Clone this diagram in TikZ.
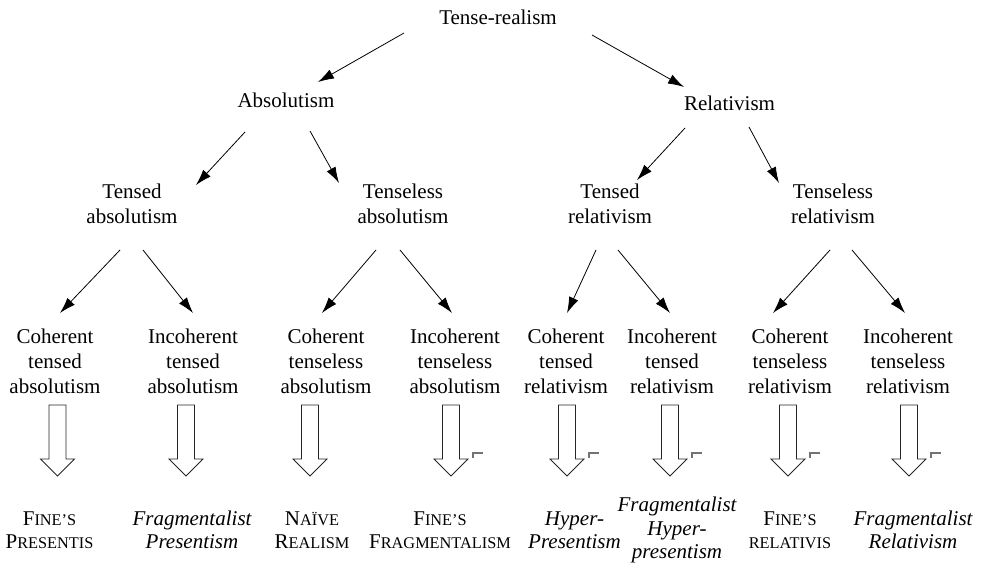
\documentclass[tikz,border=0pt]{standalone}
\usepackage{fontspec}
\setmainfont{Liberation Serif}
\usetikzlibrary{arrows.meta}
\newcommand\fsc[1]{{\fontsize{16.3}{23.5}\selectfont #1}}
\newcommand\harrowat[1]{\draw[hollow] (#1-8.5,405) -- (#1+8.5,405) -- (#1+8.5,459) -- (#1+17,459) -- (#1,476) -- (#1-17,459) -- (#1-8.5,459) -- cycle;}
\newcommand\markat[1]{\fill[markc] (#1+21,451.5) rectangle (#1+32,454.2); \fill[markc] (#1+21,451.5) rectangle (#1+23.4,457.5);}
\begin{document}
\begin{tikzpicture}[x=1pt,y=-1pt,
  lab/.style={inner sep=0pt, align=center, font=\fontsize{21}{25}\selectfont},
  bot/.style={inner sep=0pt, align=center, font=\fontsize{21}{23.5}\selectfont},
  boti/.style={bot, font=\fontsize{21}{23.5}\selectfont\itshape},
  arr/.style={-{Latex[length=16pt,width=10pt]}, line width=0.8pt},
  hollow/.style={line width=0.8pt, draw=black!85, line join=miter},
  markc/.style={black!55}]
\useasboundingbox (0,0) rectangle (985,565);
% level 1-2
\node[lab] (tr) at (498,17) {Tense-realism};
\node[lab] (abs) at (286,100) {Absolutism};
\node[lab] (rel) at (729.5,103) {Relativism};
% level 3
\node[lab] (ta) at (132,204) {Tensed\\absolutism};
\node[lab] (tla) at (403,204) {Tenseless\\absolutism};
\node[lab] (tr3) at (610,204) {Tensed\\relativism};
\node[lab] (tlr) at (833,204) {Tenseless\\relativism};
% level 4
\node[lab] (cta) at (55,361) {Coherent\\tensed\\absolutism};
\node[lab] (ita) at (193,361) {Incoherent\\tensed\\absolutism};
\node[lab] (ctla) at (326,361) {Coherent\\tenseless\\absolutism};
\node[lab] (itla) at (455,361) {Incoherent\\tenseless\\absolutism};
\node[lab] (ctr) at (566,361) {Coherent\\tensed\\relativism};
\node[lab] (itr) at (672,361) {Incoherent\\tensed\\relativism};
\node[lab] (ctlr) at (790,361) {Coherent\\tenseless\\relativism};
\node[lab] (itlr) at (908,361) {Incoherent\\tenseless\\relativism};
% bottom
\node[bot] (fp) at (49.5,530) {F\fsc{INE’S}\\P\fsc{RESENTIS}};
\node[boti] (frp) at (192,530) {Fragmentalist\\Presentism};
\node[bot] (nr) at (312,530) {N\fsc{AÏVE}\\R\fsc{EALISM}};
\node[bot] (ff) at (440,530) {F\fsc{INE’S}\\F\fsc{RAGMENTALISM}};
\node[boti] (hp) at (574.5,530) {Hyper-\\Presentism};
\node[boti] (fhp) at (677,530) {Fragmentalist\\Hyper-\\presentism};
\node[bot] (fr) at (790,530) {F\fsc{INE’S}\\\fsc{RELATIVIS}};
\node[boti] (frr) at (913,530) {Fragmentalist\\Relativism};
% arrows level 1 -> 2
\draw[arr] ([shift={(-94,16)}]tr.center) -- ([shift={(32,-18)}]abs.center);
\draw[arr] ([shift={(94,18)}]tr.center) -- ([shift={(-45.5,-16)}]rel.center);
% level 2 -> 3
\draw[arr] ([shift={(-41,32)}]abs.center) -- ([shift={(64,-19)}]ta.center);
\draw[arr] ([shift={(24,31)}]abs.center) -- ([shift={(-64,-21)}]tla.center);
\draw[arr] ([shift={(-44.5,25)}]rel.center) -- ([shift={(27,-24)}]tr3.center);
\draw[arr] ([shift={(19.5,24)}]rel.center) -- ([shift={(-54,-21)}]tlr.center);
% level 3 -> 4
\draw[arr] ([shift={(-12,46)}]ta.center) -- ([shift={(5,-48)}]cta.center);
\draw[arr] ([shift={(11,46)}]ta.center) -- ([shift={(0,-48)}]ita.center);
\draw[arr] ([shift={(-27,46)}]tla.center) -- ([shift={(-4,-48)}]ctla.center);
\draw[arr] ([shift={(-3,46)}]tla.center) -- ([shift={(-3,-48)}]itla.center);
\draw[arr] ([shift={(-14,46)}]tr3.center) -- ([shift={(1,-48)}]ctr.center);
\draw[arr] ([shift={(8,46)}]tr3.center) -- ([shift={(-2,-48)}]itr.center);
\draw[arr] ([shift={(-3,46)}]tlr.center) -- ([shift={(-17,-48)}]ctlr.center);
\draw[arr] ([shift={(19,46)}]tlr.center) -- ([shift={(-3,-48)}]itlr.center);
% hollow arrows
\harrowat{57.5}
\harrowat{186}
\harrowat{310}
\harrowat{451}
\harrowat{567}
\harrowat{670}
\harrowat{788}
\harrowat{909}
\markat{451}
\markat{567}
\markat{670}
\markat{788}
\markat{909}
\end{tikzpicture}
\end{document}
